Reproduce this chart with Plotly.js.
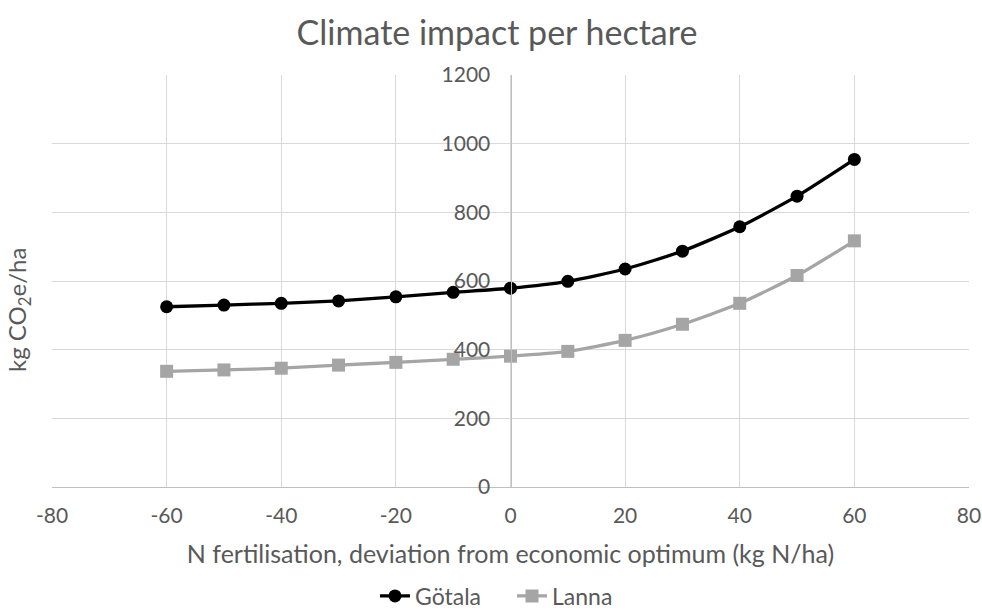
<!DOCTYPE html>
<html>
<head>
<meta charset="utf-8">
<script src="https://cdn.plot.ly/plotly-3.0.1.min.js"></script>
<style>html,body{margin:0;padding:0;background:#fff;}#chart{width:982px;height:616px;}</style>
</head>
<body>
<div id="chart"></div>
<script>
const xValues = [-60, -50, -40, -30, -20, -10, 0, 10, 20, 30, 40, 50, 60];
const gotala = [525, 530, 535, 542, 554, 567, 579, 599, 635, 687, 758, 847, 954];
const lanna = [337, 341, 346, 355, 363, 372, 381, 395, 427, 474, 535, 616, 717];
const seriesNames = ["Götala", "Lanna"];
const xTickVals = [-80, -60, -40, -20, 0, 20, 40, 60, 80];
const xTickText = ["-80", "-60", "-40", "-20", "0", "20", "40", "60", "80"];
const yTickVals = [0, 200, 400, 600, 800, 1000, 1200];
const yTickText = ["0", "200", "400", "600", "800", "1000", "1200"];

const font = "Lato, 'Open Sans', sans-serif";
const textColor = "#595959";

const traces = [
  {
    x: xValues, y: gotala, name: seriesNames[0], type: "scatter", mode: "lines+markers",
    line: {color: "#000000", width: 3.3, shape: "spline", smoothing: 0.6},
    marker: {symbol: "circle", size: 13, color: "#000000"}
  },
  {
    x: xValues, y: lanna, name: seriesNames[1], type: "scatter", mode: "lines+markers",
    line: {color: "#a5a5a5", width: 3.3, shape: "spline", smoothing: 0.6},
    marker: {symbol: "square", size: 13, color: "#a5a5a5"}
  }
];

const layout = {
  width: 982, height: 616,
  paper_bgcolor: "#ffffff", plot_bgcolor: "#ffffff",
  margin: {l: 52, r: 13, t: 75, b: 129, autoexpand: false},
  font: {family: font, color: textColor, size: 21},
  title: {text: "Climate impact per hectare", font: {family: font, size: 34, color: textColor},
          x: 497/982, xref: "container", xanchor: "center", y: 1 - 33/616, yref: "container", yanchor: "middle"},
  xaxis: {
    range: [-80, 80], tickmode: "array", tickvals: xTickVals, ticktext: xTickText,
    showgrid: true, gridcolor: "#d9d9d9", gridwidth: 1, automargin: false,
    zeroline: false, showline: true, linecolor: "#bfbfbf", linewidth: 1,
    ticks: "", ticklabelstandoff: 10, tickfont: {size: 21, color: textColor},
    title: {text: "N fertilisation, deviation from economic optimum (kg N/ha)", font: {size: 25, color: textColor}, standoff: 19}
  },
  yaxis: {
    range: [0, 1200], tickmode: "array", tickvals: yTickVals, ticktext: yTickText,
    showgrid: true, gridcolor: "#d9d9d9", gridwidth: 1, automargin: false,
    zeroline: false, showline: true, linecolor: "#bfbfbf", linewidth: 1,
    anchor: "free", position: 0.5,
    ticks: "", ticklabelstandoff: 16, tickfont: {size: 21, color: textColor}
  },
  annotations: [{
    text: "kg CO<sub>2</sub>e/ha", xref: "paper", yref: "paper", x: (18 - 52) / 917, y: (487 - 310) / 412,
    xanchor: "center", yanchor: "middle", textangle: -90, showarrow: false,
    font: {size: 24, color: textColor}
  }],
  legend: {orientation: "h", x: (512 - 52) / 917, xanchor: "center", y: (487 - 596) / 412, yanchor: "middle",
           entrywidth: 92, entrywidthmode: "pixels",
           font: {size: 23, color: textColor}, bgcolor: "rgba(0,0,0,0)"},
  showlegend: true
};

Plotly.newPlot("chart", traces, layout, {displayModeBar: false, staticPlot: true});
</script>
</body>
</html>
